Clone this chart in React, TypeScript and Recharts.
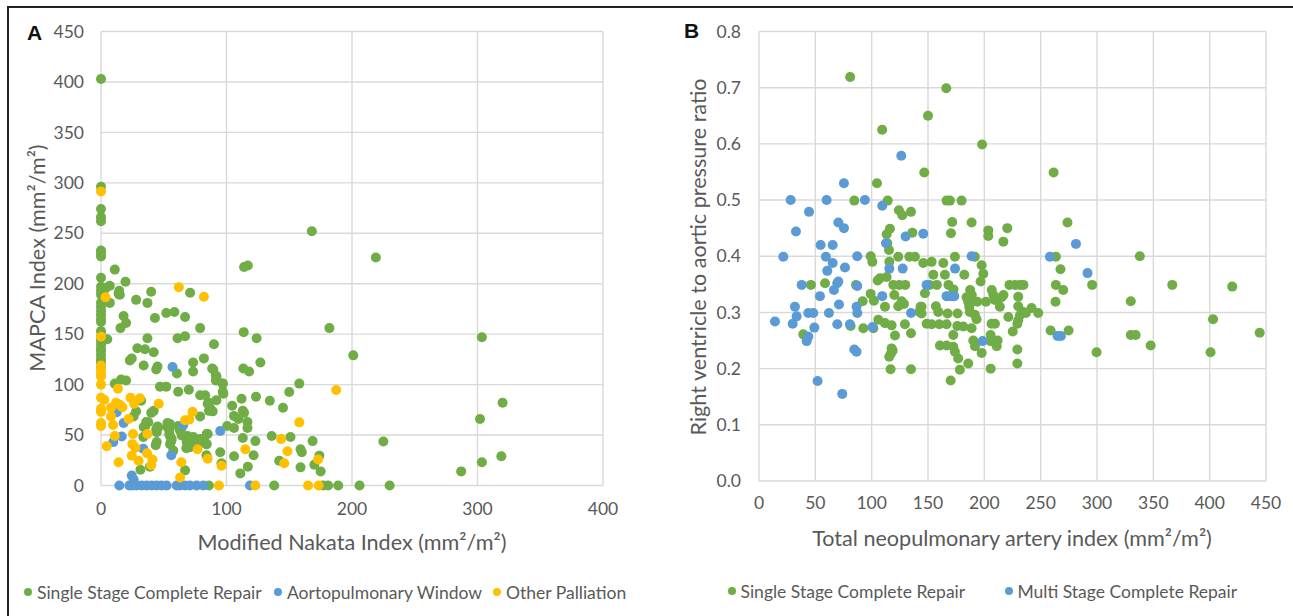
import React from 'react';
import { ScatterChart, Scatter, XAxis, YAxis, CartesianGrid, Legend, Label } from 'recharts';

const GREEN = '#70AD47';
const BLUE = '#5B9BD5';
const ORANGE = '#FFC000';
const TEXT = '#595959';
const FONT = 'Lato, "Noto Sans", sans-serif';

// ---------- Panel A: Modified Nakata Index vs MAPCA Index ----------
const aTicksX = [0, 100, 200, 300, 400];
const aTicksY = [0, 50, 100, 150, 200, 250, 300, 350, 400, 450];

const aSingleStage: number[][] = [
  [0, 403], [0, 296], [0, 274], [0, 266], [0, 262], [0, 233], [0, 230], [0, 227], [0, 206], [0, 197],
  [0, 193], [0, 189], [0, 181], [0, 177], [0, 173], [0, 169], [0, 165], [0, 162], [0, 153], [0, 148],
  [0, 144], [0, 140], [0, 136], [0, 133], [0, 129], [0, 125], [0, 122], [0, 118],
  [4, 196], [7, 198], [2, 192], [7, 181], [11, 214], [19.5, 202], [14.5, 193], [15, 189], [5, 145], [14, 190],
  [18, 168], [20, 161], [15.5, 156], [28, 184], [37, 181], [40, 192], [43, 166], [52, 171], [58.5, 172], [67, 167],
  [71, 191], [79, 156], [61, 146], [67, 148], [37, 146], [29, 136], [35, 135], [42, 132], [24.5, 126], [23, 124],
  [34, 119], [45, 118], [44, 115], [73.4, 122], [73.4, 113], [82, 126], [90, 140], [88.6, 116], [91.5, 104], [91.5, 109],
  [97, 101], [97, 93], [60.5, 111], [61.5, 93], [70, 95], [47, 98], [52, 98], [11, 101], [16, 105], [20, 104],
  [32, 84], [79, 89.5], [83, 89.5], [86, 82], [86, 74], [89, 73.5], [79, 68.5], [28, 73.5], [40, 72], [42, 74],
  [36, 63], [34, 58], [45, 58.5], [44, 55.6], [53, 62], [54.5, 55], [55, 49], [56, 44], [43.6, 40], [31.4, 15.6],
  [39, 18.7], [61.5, 59], [64, 56], [69, 49], [69, 43.6], [68, 37], [67, 15], [72, 45], [75, 43], [79, 46],
  [82, 46], [84, 41], [85, 51], [84, 30], [95, 33], [96, 22], [104.5, 79], [106, 69], [109.5, 66], [112, 86],
  [113, 74], [114, 72], [106, 57], [100.5, 59], [116.7, 63], [116.7, 57], [113, 47], [106, 29], [121.6, 30], [123, 44],
  [123.5, 88], [111, 12], [117, 18.7], [134.5, 84], [145, 77], [150, 92.6], [158, 101], [136, 49], [151, 48], [142, 24.5],
  [159, 36], [160, 33], [159, 18], [168.6, 44], [170, 20.6], [174, 29.6], [175, 14], [113.4, 116], [118, 113], [113.7, 152],
  [124, 146], [127, 122], [114, 216.5], [117, 218], [168, 252], [219, 226], [182, 156], [201, 129], [303.5, 147], [320, 82],
  [302, 66], [303.5, 23], [319, 29], [287, 14], [225, 43.6],
  [26, 68.5], [37.7, 62.7], [35, 57.8], [45.7, 57.8], [44.4, 52.9], [33.7, 48], [44.4, 43], [55, 61], [53, 57.8], [54.4, 51],
  [56.3, 46], [55, 41], [57.6, 34.6], [62.9, 54.6], [64.3, 49.6], [68.3, 43], [70.9, 38], [73.6, 48], [77.5, 41], [84.2, 41],
  [84.2, 51], [85, 81], [87, 76.5], [92, 84.6], [97.5, 91], [89.5, 115], [92, 108], [97, 101],
  [86, 0], [138, 0], [177, 0], [181, 0], [189, 0], [206, 0], [230, 0],
];

const aAortopulmonaryWindow: number[][] = [
  [57, 117.5], [18, 62], [16.5, 48.6], [9.8, 43], [12.5, 72.7], [95, 54], [56, 30], [33.7, 36.4], [24.5, 10], [26, 6],
  [65.6, 60], [14.6, 0], [22.6, 0], [25.2, 0], [28.4, 0], [32.4, 0], [36.4, 0], [40.4, 0], [44.3, 0], [48.3, 0],
  [52.3, 0], [60.3, 0], [62.9, 0], [66.9, 0], [70.9, 0], [76.2, 0], [81.5, 0], [118.7, 0],
];

const aOtherPalliation: number[][] = [
  [0, 291.5], [62, 196.6], [82, 187], [3.6, 186.5], [0, 147.5], [0, 119], [0, 115], [0, 111], [0, 108], [0, 100],
  [13.5, 96], [0, 87], [2.6, 85], [23.5, 87], [31, 86.4], [26.4, 81], [12, 82], [15, 80], [46, 81], [0, 76],
  [0, 73], [8, 77], [17, 77.5], [8, 68.5], [22, 66], [73, 73], [67, 64.6], [70.4, 65.4], [0, 62], [0, 59],
  [9.6, 60], [11, 49], [25.5, 51], [37, 51], [4.6, 39], [25, 41], [27.4, 37.4], [36.7, 32], [24.5, 29.6], [14, 23],
  [30, 24.5], [41, 25.7], [40, 20], [64, 23], [63, 8], [77, 36], [85, 26.5], [96, 19.5], [94, 0], [123, 0],
  [115, 36], [143.5, 46], [146, 22], [148.6, 34], [158, 62.6], [173, 25.7], [165, 0], [173.5, 0], [187.4, 94.6],
];

// ---------- Panel B: Total neopulmonary artery index vs RV/Ao pressure ratio ----------
const bTicksX = [0, 50, 100, 150, 200, 250, 300, 350, 400, 450];
const bTicksY = [0, 0.1, 0.2, 0.3, 0.4, 0.5, 0.6, 0.7, 0.8];

const bSingleStage: number[][] = [
  [80.9, 0.719], [166.2, 0.699], [150, 0.65], [109.3, 0.625], [198, 0.599], [146.7, 0.549], [261.5, 0.549],
  [104.7, 0.53], [84.6, 0.499], [114.2, 0.499], [124.2, 0.482], [127.2, 0.473], [134.9, 0.479], [113.3, 0.439],
  [116.2, 0.449], [136.1, 0.442], [113.9, 0.423], [115.4, 0.411], [99.1, 0.4], [100.6, 0.39], [115.7, 0.39],
  [123.6, 0.399], [133.4, 0.399], [138.4, 0.399], [46.1, 0.349], [58.6, 0.352], [86.1, 0.349], [105.3, 0.357],
  [107.4, 0.361], [113.3, 0.363], [119.2, 0.349], [124.5, 0.349], [129.8, 0.349], [99.1, 0.333], [102, 0.321],
  [92, 0.32], [111.8, 0.31], [120.1, 0.331], [123.6, 0.311], [126.6, 0.32], [128.7, 0.315], [143.4, 0.31],
  [142.5, 0.301], [105.9, 0.287], [111.8, 0.281], [117.7, 0.277], [129.5, 0.279], [92.6, 0.272], [101.5, 0.272],
  [81.3, 0.276], [120.7, 0.259], [134.9, 0.263], [39.3, 0.261], [117.7, 0.236], [117.1, 0.227], [115.6, 0.221],
  [118.6, 0.232], [116.8, 0.199], [134.9, 0.199],
  [166.5, 0.499], [169.5, 0.499], [179.8, 0.499], [171.5, 0.461], [188.7, 0.46], [170.4, 0.441], [203.5, 0.446],
  [203.5, 0.436], [220.4, 0.45], [216.9, 0.426], [173.9, 0.399], [191.6, 0.399], [145.8, 0.388], [153.2, 0.39],
  [163.6, 0.388], [197.6, 0.384], [199.1, 0.369], [196.7, 0.355], [182.2, 0.367], [154.7, 0.367], [165, 0.367],
  [151.3, 0.349], [157.8, 0.349], [168.2, 0.349], [172.6, 0.341], [187.4, 0.34], [188.9, 0.331], [206.6, 0.34],
  [208, 0.331], [217, 0.331], [222.3, 0.349], [227.3, 0.349], [231.7, 0.349], [234.7, 0.349], [147.3, 0.334],
  [144.3, 0.31], [144.3, 0.298], [157, 0.311], [159.1, 0.301], [167.4, 0.298], [176.2, 0.298], [185.7, 0.319],
  [184.2, 0.327], [186.6, 0.31], [187.2, 0.301], [193.7, 0.319], [201.4, 0.319], [209.4, 0.322], [213.8, 0.31],
  [215.3, 0.327], [230.1, 0.328], [230.1, 0.311], [241.9, 0.308], [247.8, 0.299], [231.6, 0.295], [234.6, 0.301],
  [236.9, 0.299], [148.8, 0.28], [153.2, 0.279], [160, 0.279], [166.5, 0.279], [176, 0.276], [181.3, 0.275],
  [188.7, 0.272], [193.1, 0.288], [191.6, 0.296], [206.4, 0.28], [209.4, 0.28], [221.3, 0.292], [225.2, 0.266],
  [229.3, 0.28], [230.1, 0.286], [172.4, 0.26], [160.6, 0.241], [166.5, 0.241], [172.4, 0.239], [173.9, 0.23],
  [176.8, 0.218], [185.7, 0.209], [178.3, 0.198], [170.1, 0.179], [190.2, 0.25], [191.7, 0.24], [197.6, 0.228],
  [205.6, 0.26], [205.6, 0.249], [211.8, 0.25], [211, 0.24], [205.6, 0.2], [229.3, 0.234], [229.3, 0.209],
  [299.6, 0.229], [258.8, 0.268], [274.8, 0.268], [263.5, 0.399], [267.6, 0.377], [263.5, 0.349], [270, 0.34],
  [263.2, 0.319], [273.8, 0.46], [295.7, 0.349],
  [338, 0.4], [366.8, 0.349], [420, 0.346], [330, 0.32], [330, 0.26], [334.3, 0.26], [347.6, 0.241], [403, 0.288],
  [400.8, 0.229], [444.4, 0.264],
];

const bMultiStage: number[][] = [
  [75.4, 0.53], [28.1, 0.5], [60, 0.5], [94, 0.5], [109.4, 0.49], [44.4, 0.479], [70.4, 0.46], [75.4, 0.45],
  [32.8, 0.444], [54.7, 0.42], [65.4, 0.42], [112.7, 0.423], [130.1, 0.435], [126.3, 0.579], [21.6, 0.399],
  [59.4, 0.399], [87.2, 0.4], [65.4, 0.388], [60.6, 0.374], [76.3, 0.38], [127.5, 0.378], [115.7, 0.378],
  [37.9, 0.349], [69.5, 0.352], [70.4, 0.355], [66.5, 0.34], [87.2, 0.347], [54.1, 0.329], [109.4, 0.329],
  [31.9, 0.31], [33.4, 0.293], [29.9, 0.28], [14.2, 0.284], [43.8, 0.299], [48.2, 0.299], [62.1, 0.299],
  [71, 0.314], [86.6, 0.31], [87.2, 0.299], [49.1, 0.273], [69.5, 0.279], [80.7, 0.279], [100.8, 0.274],
  [43.8, 0.257], [42.3, 0.249], [84.6, 0.234], [86.6, 0.23], [52, 0.178], [73.9, 0.155], [134.9, 0.299],
  [145.8, 0.44], [188.7, 0.4], [174, 0.378], [148.8, 0.349], [166.5, 0.329], [170, 0.329], [173.3, 0.329],
  [198.5, 0.249], [258.2, 0.399], [281.3, 0.422], [291.6, 0.37], [268, 0.258], [265, 0.258],
];

const toPoints = (rows: number[][]) => rows.map(([x, y]) => ({ x, y }));

const dotShape = (color: string) => (props: any) =>
  <circle cx={props.cx} cy={props.cy} r={5} fill={color} />;

type LegendItem = { name: string; color: string; left: number };

const legendContent = (items: LegendItem[]) => () => (
  <div style={{ position: 'relative', height: 24, fontFamily: FONT, fontSize: 17.5, color: TEXT }}>
    {items.map((it) => (
      <div key={it.name} style={{ position: 'absolute', left: it.left, top: 0, height: 24, display: 'flex', alignItems: 'center', whiteSpace: 'nowrap' }}>
        <span style={{ display: 'inline-block', width: 8, height: 8, borderRadius: '50%', background: it.color, marginRight: 5 }} />
        {it.name}
      </div>
    ))}
  </div>
);

const tickStyle = { fill: TEXT, fontSize: 17.5, fontFamily: FONT };
const titleStyle = { fill: TEXT, fontSize: 21.6, fontFamily: FONT };

export default function App() {
  const aLegend: LegendItem[] = [
    { name: 'Single Stage Complete Repair', color: GREEN, left: 24 },
    { name: 'Aortopulmonary Window', color: BLUE, left: 274 },
    { name: 'Other Palliation', color: ORANGE, left: 493 },
  ];
  const bLegend: LegendItem[] = [
    { name: 'Single Stage Complete Repair', color: GREEN, left: 77.5 },
    { name: 'Multi Stage Complete Repair', color: BLUE, left: 354.5 },
  ];

  return (
    <div style={{ position: 'absolute', left: 0, top: 0, width: 1293, height: 616, background: '#fff', overflow: 'hidden' }}>
      <div style={{ position: 'absolute', left: 7, top: 6, width: 1293, height: 616, borderLeft: '2px solid #222', borderTop: '2px solid #222' }} />
      <div style={{ position: 'absolute', left: 27, top: 21, fontFamily: '"Liberation Sans", Arial, sans-serif', fontWeight: 'bold', fontSize: 21, color: '#111' }}>A</div>
      <div style={{ position: 'absolute', left: 684, top: 19, fontFamily: '"Liberation Sans", Arial, sans-serif', fontWeight: 'bold', fontSize: 21, color: '#111' }}>B</div>

      <div style={{ position: 'absolute', left: 0, top: 0 }}>
        <ScatterChart width={645} height={616} margin={{ top: 31.5, right: 42, bottom: 90.5, left: 0 }}>
          <CartesianGrid stroke="#d9d9d9" strokeWidth={1.4} />
          <XAxis type="number" dataKey="x" domain={[0, 400]} ticks={aTicksX} interval={0} height={40}
            axisLine={false} tickLine={false} tickSize={0} tickMargin={17} tick={tickStyle}>
            <Label content={() => (
              <text x={352} y={542} textAnchor="middle" dominantBaseline="central" style={titleStyle}>Modified Nakata Index (mm²/m²)</text>
            )} />
          </XAxis>
          <YAxis type="number" dataKey="y" domain={[0, 450]} ticks={aTicksY} interval={0} width={101}
            axisLine={false} tickLine={false} tickSize={0} tickMargin={17} tick={tickStyle}>
            <Label content={() => (
              <text x={36.5} y={258} transform="rotate(-90, 36.5, 258)" textAnchor="middle" dominantBaseline="central" style={titleStyle}>MAPCA Index (mm²/m²)</text>
            )} />
          </YAxis>
          <Legend layout="horizontal" verticalAlign="middle" align="center"
            wrapperStyle={{ left: 0, top: 580, width: 645, height: 24 }} content={legendContent(aLegend)} />
          <Scatter name="Single Stage Complete Repair" data={toPoints(aSingleStage)} fill={GREEN} shape={dotShape(GREEN)} isAnimationActive={false} />
          <Scatter name="Aortopulmonary Window" data={toPoints(aAortopulmonaryWindow)} fill={BLUE} shape={dotShape(BLUE)} isAnimationActive={false} />
          <Scatter name="Other Palliation" data={toPoints(aOtherPalliation)} fill={ORANGE} shape={dotShape(ORANGE)} isAnimationActive={false} />
        </ScatterChart>
      </div>

      <div style={{ position: 'absolute', left: 650, top: 0 }}>
        <ScatterChart width={643} height={616} margin={{ top: 31.5, right: 27, bottom: 95, left: 0 }}>
          <CartesianGrid stroke="#d9d9d9" strokeWidth={1.4} />
          <XAxis type="number" dataKey="x" domain={[0, 450]} ticks={bTicksX} interval={0} height={40}
            axisLine={false} tickLine={false} tickSize={0} tickMargin={16} tick={tickStyle}>
            <Label content={() => (
              <text x={362} y={538} textAnchor="middle" dominantBaseline="central" style={titleStyle}>Total neopulmonary artery index (mm²/m²)</text>
            )} />
          </XAxis>
          <YAxis type="number" dataKey="y" domain={[0, 0.8]} ticks={bTicksY} interval={0} width={109}
            axisLine={false} tickLine={false} tickSize={0} tickMargin={18} tick={tickStyle}
            tickFormatter={(v: number) => v.toFixed(1)}>
            <Label content={() => (
              <text x={48.3} y={257} transform="rotate(-90, 48.3, 257)" textAnchor="middle" dominantBaseline="central" style={titleStyle}>Right ventricle to aortic pressure ratio</text>
            )} />
          </YAxis>
          <Legend layout="horizontal" verticalAlign="middle" align="center"
            wrapperStyle={{ left: 0, top: 579, width: 643, height: 24 }} content={legendContent(bLegend)} />
          <Scatter name="Single Stage Complete Repair" data={toPoints(bSingleStage)} fill={GREEN} shape={dotShape(GREEN)} isAnimationActive={false} />
          <Scatter name="Multi Stage Complete Repair" data={toPoints(bMultiStage)} fill={BLUE} shape={dotShape(BLUE)} isAnimationActive={false} />
        </ScatterChart>
      </div>
    </div>
  );
}
